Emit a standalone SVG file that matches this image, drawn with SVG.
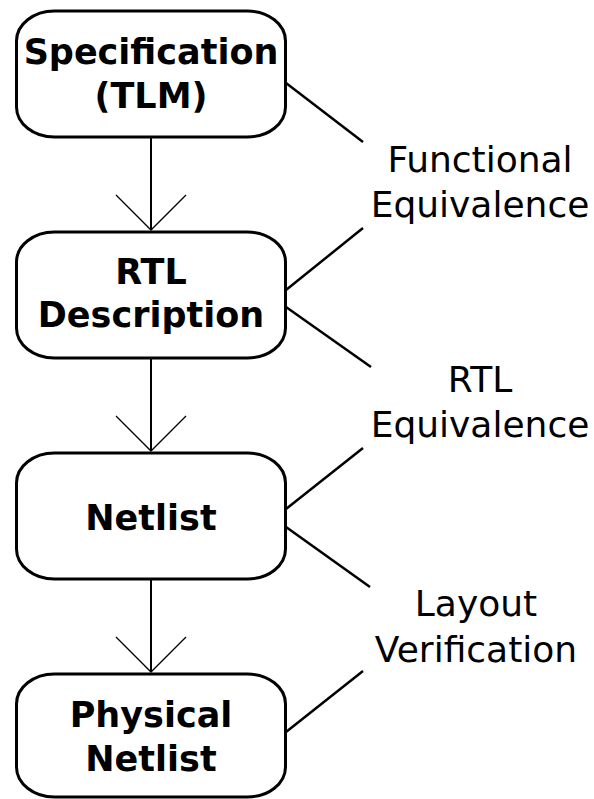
<svg xmlns="http://www.w3.org/2000/svg" width="594" height="799" viewBox="0 0 594 799">
<style>
.box{fill:#fff;stroke:#000;stroke-width:3}
.nt{font-family:"DejaVu Sans",sans-serif;font-weight:bold;font-size:35px;text-anchor:middle;fill:#000}
.lb{font-family:"DejaVu Sans",sans-serif;font-size:36px;text-anchor:middle;fill:#000}
.ln{stroke:#000;stroke-width:2;fill:none}
.ah{stroke:#000;stroke-width:1.3;fill:none}
.cn{stroke:#000;stroke-width:2.5;fill:none}
</style>
<rect width="594" height="799" fill="#fff"/>
<g id="connectors">
<line class="ln" x1="151" y1="138" x2="151" y2="230"/>
<polyline class="ah" points="116,195 151,230 186,195"/>
<line class="ln" x1="151" y1="359" x2="151" y2="451"/>
<polyline class="ah" points="116,416 151,451 186,416"/>
<line class="ln" x1="151" y1="580" x2="151" y2="672"/>
<polyline class="ah" points="116,637 151,672 186,637"/>
<line class="cn" x1="286" y1="83" x2="363" y2="142"/>
<line class="cn" x1="363" y1="228" x2="286" y2="290"/>
<line class="cn" x1="286" y1="307" x2="371" y2="367"/>
<line class="cn" x1="363" y1="448" x2="286" y2="509"/>
<line class="cn" x1="286" y1="527" x2="370" y2="587"/>
<line class="cn" x1="363" y1="671" x2="286" y2="732"/>
</g>
<g id="spec">
<rect class="box" x="16.5" y="11" width="269" height="126" rx="38" ry="30"/>
<text class="nt" x="151" y="64">Specification</text>
<text class="nt" x="151" y="108">(TLM)</text>
</g>
<g id="rtl">
<rect class="box" x="16.5" y="232" width="269" height="126" rx="38" ry="30"/>
<text class="nt" x="151" y="284">RTL</text>
<text class="nt" x="151" y="327">Description</text>
</g>
<g id="netlist">
<rect class="box" x="16.5" y="453" width="269" height="126" rx="38" ry="30"/>
<text class="nt" x="151" y="530">Netlist</text>
</g>
<g id="physical">
<rect class="box" x="16.5" y="674" width="269" height="123" rx="38" ry="30"/>
<text class="nt" x="151" y="727">Physical</text>
<text class="nt" x="151" y="771">Netlist</text>
</g>
<g id="labels">
<text class="lb" x="480" y="172">Functional</text>
<text class="lb" x="480" y="217">Equivalence</text>
<text class="lb" x="480" y="392">RTL</text>
<text class="lb" x="480" y="437">Equivalence</text>
<text class="lb" x="476" y="616">Layout</text>
<text class="lb" x="476" y="662">Verification</text>
</g>
</svg>
